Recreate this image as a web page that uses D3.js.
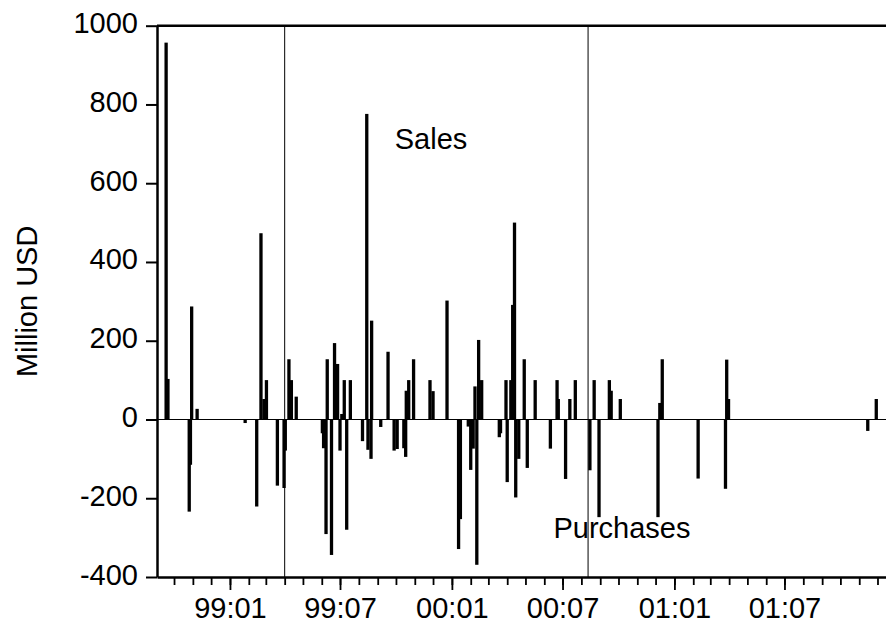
<!DOCTYPE html>
<html>
<head>
<meta charset="utf-8">
<script src="https://cdn.jsdelivr.net/npm/d3@7"></script>
<style>
  html, body { margin: 0; padding: 0; background: #fff; }
  svg text { font-family: "Liberation Sans", Arial, sans-serif; fill: #000; }
</style>
</head>
<body>
<div id="chart"></div>
<script>
// daily intervention amounts, million USD (positive = sales, negative = purchases)
const days = [
  "1998-09-18", "1998-09-21", "1998-10-26", "1998-10-28", "1998-10-30", "1998-11-08",
  "1999-01-26", "1999-02-14", "1999-02-21", "1999-02-26", "1999-03-02", "1999-03-20",
  "1999-03-31", "1999-04-02", "1999-04-08", "1999-04-12", "1999-04-20",
  "1999-06-02", "1999-06-04", "1999-06-08", "1999-06-10", "1999-06-17", "1999-06-22",
  "1999-06-27", "1999-07-01", "1999-07-04", "1999-07-08", "1999-07-12", "1999-07-18",
  "1999-08-07", "1999-08-14", "1999-08-16", "1999-08-21", "1999-08-22", "1999-09-06",
  "1999-09-18", "1999-09-28", "1999-10-03", "1999-10-14", "1999-10-17", "1999-10-18",
  "1999-10-22", "1999-10-30", "1999-11-26", "1999-12-01", "1999-12-24",
  "2000-01-12", "2000-01-15", "2000-01-28", "2000-02-01", "2000-02-05", "2000-02-08",
  "2000-02-11", "2000-02-14", "2000-02-19", "2000-03-19", "2000-03-21", "2000-03-30",
  "2000-04-01", "2000-04-07", "2000-04-10", "2000-04-13", "2000-04-15", "2000-04-20",
  "2000-04-29", "2000-05-04", "2000-05-17", "2000-06-11", "2000-06-22", "2000-06-24",
  "2000-07-06", "2000-07-13", "2000-07-22", "2000-08-15", "2000-08-22", "2000-08-30",
  "2000-09-16", "2000-09-19", "2000-10-04", "2000-12-05", "2000-12-08", "2000-12-12",
  "2001-02-09", "2001-03-26", "2001-03-28", "2001-03-31", "2001-11-15", "2001-11-29"
];
const amounts = [
  957, 103, -234, -115, 287, 27,
  -9, -221, 473, 52, 100, -168,
  -174, -79, 153, 100, 58,
  -35, -73, -291, 153, -344, 194,
  141, -79, 14, 100, -280, 100,
  -55, 776, -77, -100, 251, -19,
  172, -79, -75, -73, -95, 73,
  100, 153, 100, 72, 302,
  -329, -253, -18, -128, -74, 84,
  -369, 202, 100, -45, -35, 100,
  -159, 100, 291, 500, -198, -100,
  153, -123, 100, -74, 100, 52,
  -151, 52, 100, -129, 100, -248,
  100, 73, 52, -248, 42, 153,
  -150, -176, 152, 52, -29, 52
];
const breakDays = ["1999-04-01", "2000-08-12"];
const yTicks = [-400, -200, 0, 200, 400, 600, 800, 1000];
const xDomain = ["1998-09-03", "2001-12-15"];
const notes = [
  { text: "Sales", day: "1999-09-29", value: 687 },
  { text: "Purchases", day: "2000-06-16", value: -301 }
];

const width = 886, height = 629;
const margin = { top: 25.7, right: 0, bottom: 52, left: 157 };
const parse = d3.utcParse("%Y-%m-%d");

const data = days.map((d, i) => ({ date: parse(d), value: amounts[i] }));

const svg = d3.select("#chart").append("svg")
  .attr("width", width)
  .attr("height", height);

const x = d3.scaleUtc()
  .domain(xDomain.map(parse))
  .range([margin.left, width - margin.right]);

const y = d3.scaleLinear()
  .domain([-400, 1000])
  .range([height - margin.bottom, margin.top]);

const fontSize = 29;

// top frame line
svg.append("line")
  .attr("x1", margin.left).attr("x2", width)
  .attr("y1", y(1000)).attr("y2", y(1000))
  .attr("stroke", "#000").attr("stroke-width", 2.5);

// regime break lines
svg.selectAll(".brk")
  .data(breakDays.map(parse))
  .enter()
  .append("line")
  .attr("class", "brk")
  .attr("x1", d => x(d)).attr("x2", d => x(d))
  .attr("y1", y(1000)).attr("y2", y(-400))
  .attr("stroke", "#000").attr("stroke-width", 1);

// zero line
svg.append("line")
  .attr("x1", margin.left).attr("x2", width)
  .attr("y1", y(0)).attr("y2", y(0))
  .attr("stroke", "#000").attr("stroke-width", 1.2);

// spikes
const barW = 3.3;
svg.selectAll(".spike")
  .data(data)
  .enter()
  .append("rect")
  .attr("class", "spike")
  .attr("x", d => x(d.date) - barW / 2)
  .attr("width", barW)
  .attr("y", d => y(Math.max(0, d.value)))
  .attr("height", d => Math.abs(y(d.value) - y(0)))
  .attr("fill", "#000");

// y axis
const gy = svg.append("g")
  .attr("transform", `translate(${margin.left},0)`)
  .call(d3.axisLeft(y).tickValues(yTicks).tickSize(11).tickSizeOuter(0).tickPadding(8)
    .tickFormat(d => String(d)));
gy.select(".domain").attr("stroke-width", 2.5);
gy.selectAll(".tick line").attr("stroke-width", 2);
gy.selectAll(".tick text")
  .attr("font-size", fontSize)
  .attr("font-family", null)
  .attr("dy", 7);

// x axis: monthly minor ticks
const xBase = y(-400);
const gxMinor = svg.append("g")
  .attr("transform", `translate(0,${xBase})`)
  .call(d3.axisBottom(x).ticks(d3.utcMonth.every(1)).tickSize(8).tickSizeOuter(0).tickFormat(""));
gxMinor.select(".domain").attr("stroke-width", 2.5);
gxMinor.selectAll(".tick line").attr("stroke-width", 1.8);

// x axis: half-year major ticks with labels
const gxMajor = svg.append("g")
  .attr("transform", `translate(0,${xBase})`)
  .call(d3.axisBottom(x).ticks(d3.utcMonth.every(6)).tickSize(13).tickSizeOuter(0)
    .tickPadding(7).tickFormat(d3.utcFormat("%y:%m")));
gxMajor.select(".domain").remove();
gxMajor.selectAll(".tick line").attr("stroke-width", 1.8);
gxMajor.selectAll(".tick text")
  .attr("font-size", fontSize)
  .attr("font-family", null);

// y label
svg.append("text")
  .attr("transform", `translate(37,${(y(1000) + y(-400)) / 2}) rotate(-90)`)
  .attr("text-anchor", "middle")
  .attr("font-size", fontSize)
  .text("Million USD");

// annotations
svg.selectAll(".note")
  .data(notes)
  .enter()
  .append("text")
  .attr("class", "note")
  .attr("x", d => x(parse(d.day)))
  .attr("y", d => y(d.value))
  .attr("font-size", fontSize)
  .text(d => d.text);
</script>
</body>
</html>
